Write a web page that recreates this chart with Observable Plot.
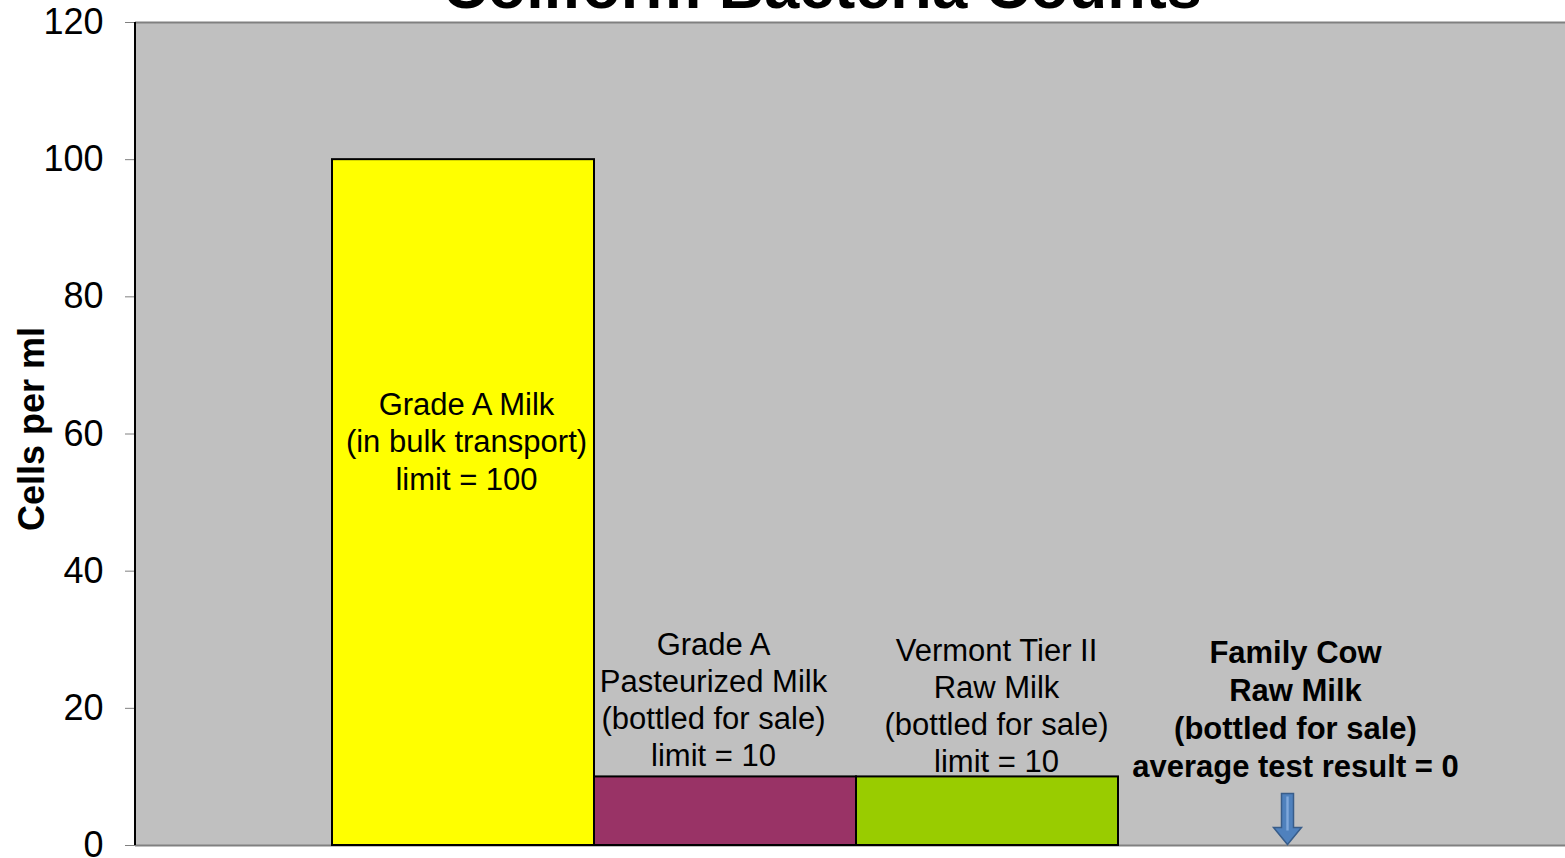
<!DOCTYPE html>
<html>
<head>
<meta charset="utf-8">
<script src="https://cdn.jsdelivr.net/npm/d3@7"></script>
<script src="https://cdn.jsdelivr.net/npm/@observablehq/plot@0.6"></script>
<style>
  html, body { margin: 0; padding: 0; background: #ffffff; overflow: hidden; }
  #wrap { position: relative; width: 1565px; height: 858px; font-family: "Liberation Sans", Arial, sans-serif; }
  #title { position: absolute; top: -45px; left: 822px; transform: translateX(-50%); white-space: nowrap;
           font-size: 63px; line-height: 63px; font-weight: bold; color: #000; z-index: 2; }
  #chart { position: absolute; left: 0; top: 0; }
</style>
</head>
<body>
<div id="wrap">
  <div id="title"></div>
  <div id="chart"></div>
</div>
<script>
const title = "Coliform Bacteria Counts";
const yLabel = "Cells per ml";
const categories = ["Grade A Milk", "Grade A Pasteurized Milk", "Vermont Tier II Raw Milk", "Family Cow Raw Milk"];
const values = [100, 10, 10, 0];
const colors = ["#FFFF00", "#993366", "#99CC00", "#C0C0C0"];
const labels = [
  "Grade A Milk\n(in bulk transport)\nlimit = 100",
  "Grade A\nPasteurized Milk\n(bottled for sale)\nlimit = 10",
  "Vermont Tier II\nRaw Milk\n(bottled for sale)\nlimit = 10",
  "Family Cow\nRaw Milk\n(bottled for sale)\naverage test result = 0"
];
const yTicks = [0, 20, 40, 60, 80, 100, 120];

const data = categories.map((c, i) => ({category: c, value: values[i], color: colors[i], label: labels[i]}));

document.getElementById("title").textContent = title;

// block arrow symbol (tip at origin)
const arrowSymbol = {
  draw(ctx) {
    ctx.moveTo(-6, -51); ctx.lineTo(6, -51); ctx.lineTo(6, -17); ctx.lineTo(14, -17);
    ctx.lineTo(0, 0); ctx.lineTo(-14, -17); ctx.lineTo(-6, -17); ctx.closePath();
  }
};
const stripeSymbol = {
  draw(ctx) {
    ctx.moveTo(-1.2, -48); ctx.lineTo(1.2, -48); ctx.lineTo(1.2, -14); ctx.lineTo(-1.2, -14); ctx.closePath();
  }
};

const font = "Liberation Sans, Arial, sans-serif";

const plot = Plot.plot({
  width: 1565,
  height: 858,
  marginTop: 22,
  marginBottom: 13,
  marginLeft: 135,
  marginRight: 0,
  style: {fontFamily: font, background: "transparent", overflow: "visible"},
  x: {domain: categories, range: [332, 1380], padding: 0, axis: null},
  y: {domain: [0, 120], axis: null},
  color: {type: "identity"},
  marks: [
    Plot.frame({fill: "#C0C0C0", stroke: "none"}),
    Plot.ruleY([yTicks[yTicks.length - 1]], {stroke: "#808080", strokeWidth: 2}),
    Plot.ruleY([0], {stroke: "#808080", strokeWidth: 2}),
    Plot.barY(data, {filter: d => d.value > 0, x: "category", y: "value", fill: "color", stroke: "#000", strokeWidth: 2}),
    Plot.axisY({ticks: yTicks, tickSize: 10, tickPadding: 22, fontSize: 36, stroke: "#808080", fill: "#000", label: null}),
    Plot.text([yLabel], {frameAnchor: "left", rotate: -90, dx: -103, dy: -5, fontSize: 36, fontWeight: "bold", fill: "#000", lineAnchor: "middle", textAnchor: "middle"}),
    Plot.text([data[0]], {x: "category", frameAnchor: "middle", text: "label", dx: 3, dy: 6.5, lineAnchor: "middle", fontSize: 31, lineHeight: 1.2, fill: "#000"}),
    Plot.text([data[1]], {x: "category", y: "value", text: "label", dx: -12, dy: -78.5, lineAnchor: "middle", fontSize: 31, lineHeight: 1.2, fill: "#000"}),
    Plot.text([data[2]], {x: "category", y: "value", text: "label", dx: 9, dy: -72.5, lineAnchor: "middle", fontSize: 31, lineHeight: 1.2, fill: "#000"}),
    Plot.text([data[3]], {x: "category", y: "value", text: "label", dx: 46, dy: -138, lineAnchor: "middle", fontSize: 31, lineHeight: 1.23, fontWeight: "bold", fill: "#000"}),
    Plot.dot([data[3]], {x: "category", y: "value", dx: 38, dy: -1, symbol: arrowSymbol, r: 1, fill: "#4F81BD", stroke: "#385D8A", strokeWidth: 1.5}),
    Plot.dot([data[3]], {x: "category", y: "value", dx: 38, dy: -1, symbol: stripeSymbol, r: 1, fill: "#7FA8DC", stroke: "none"})
  ]
});

// left axis line
d3.select(plot).append("line")
  .attr("x1", 135).attr("x2", 135).attr("y1", 22).attr("y2", 845)
  .attr("stroke", "#000").attr("stroke-width", 2);

document.getElementById("chart").appendChild(plot);
</script>
</body>
</html>
